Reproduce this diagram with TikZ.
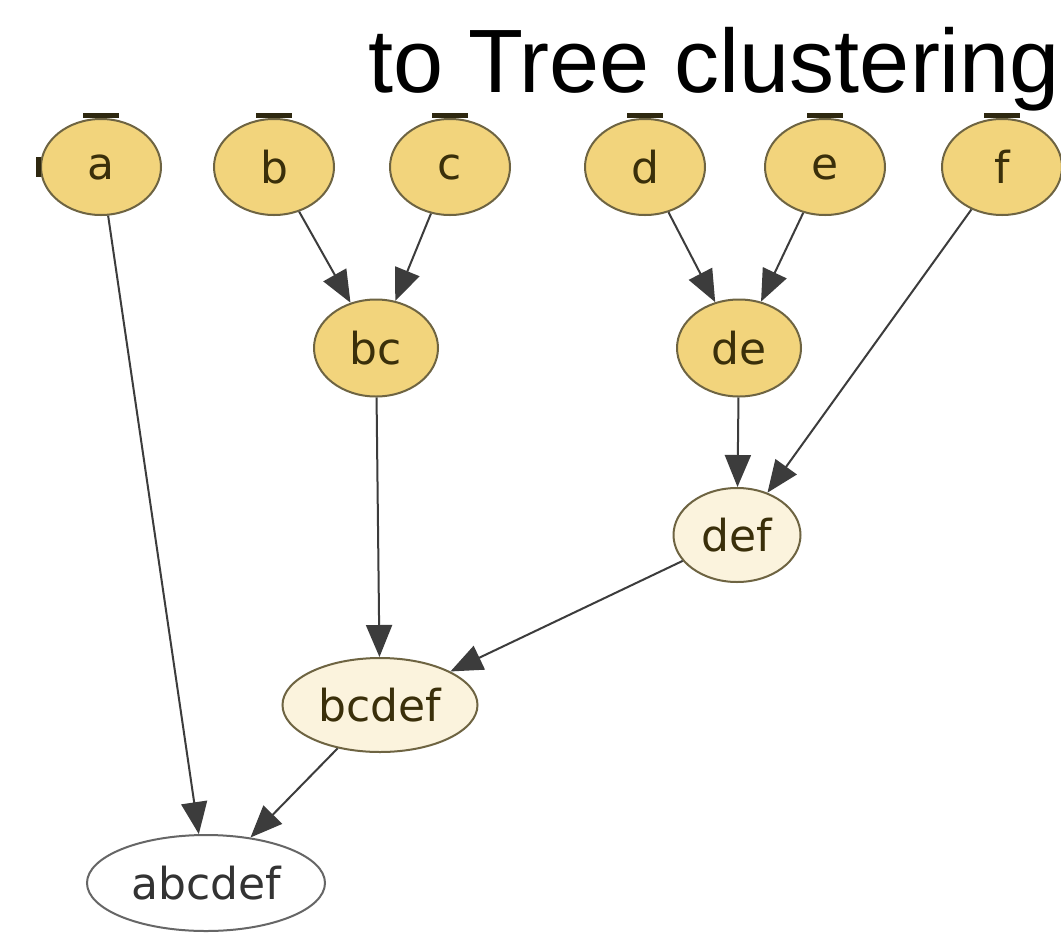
\documentclass[tikz,border=0pt]{standalone}
\usepackage{fontspec}
\usetikzlibrary{shapes.geometric,arrows.meta}
\newfontfamily\labfont{DejaVu Sans}
\newfontfamily\titlefont{Liberation Sans}
\definecolor{gold}{HTML}{F2D47C}
\definecolor{cream}{HTML}{FBF3DD}
\definecolor{rim}{HTML}{6E6442}
\definecolor{ink}{HTML}{3A2F0A}
\definecolor{edgec}{HTML}{3C3C3C}
\definecolor{nubc}{HTML}{2E2810}
\tikzset{
  cl/.style={ellipse, draw=rim, line width=2pt, inner sep=0pt, text=ink,
    font=\labfont\fontsize{44}{50}\selectfont},
  leaf/.style={cl, fill=gold, minimum width=120pt, minimum height=96pt},
  mid/.style={cl, fill=gold, minimum width=124pt, minimum height=97pt},
  merged/.style={cl, fill=cream, minimum height=94pt},
  rootn/.style={cl, fill=white, draw=black!60, text=black!80, minimum height=96pt},
  link/.style={draw=edgec, line width=2pt, -{Triangle[length=32pt,width=26pt]}},
  nub/.style={draw=nubc, line width=5pt}
}
\begin{document}
\begin{tikzpicture}[x=1pt,y=-1pt]
\useasboundingbox[fill=white] (0,0) rectangle (1061,935);
\node[anchor=base west, inner sep=0pt, font=\titlefont\fontsize{90}{100}\selectfont] (title) at (368,92) {to Tree clustering};
% leaves
\node[leaf] (a) at (101,167) {a};
\node[leaf] (b) at (274,167) {b};
\node[leaf] (c) at (450,167) {c};
\node[leaf] (d) at (645,167) {d};
\node[leaf] (e) at (825,167) {e};
\node[leaf] (f) at (1002,167) {f};
% intermediate
\node[mid] (bc) at (376,348) {bc};
\node[mid] (de) at (739,348) {de};
\node[merged, minimum width=127pt] (def) at (737,535) {def};
\node[merged, minimum width=195pt] (bcdef) at (380,705) {bcdef};
\node[rootn, minimum width=238pt] (abcdef) at (206,883) {abcdef};
% nubs
\foreach \n in {a,b,c,d,e,f}{
  \draw[nub] ([xshift=-18pt,yshift=3pt]\n.north) -- ([xshift=18pt,yshift=3pt]\n.north);
}
\draw[nub] ([xshift=-2pt,yshift=10pt]a.west) -- ([xshift=-2pt,yshift=-10pt]a.west);
% edges
\draw[link] (b) -- (bc);
\draw[link] (c) -- (bc);
\draw[link] (d) -- (de);
\draw[link] (e) -- (de);
\draw[link] (f) -- (def);
\draw[link] (de) -- (def);
\draw[link] (bc) -- (bcdef);
\draw[link] (def) -- (bcdef);
\draw[link] (a) -- (abcdef);
\draw[link] (bcdef) -- (abcdef);
\end{tikzpicture}
\end{document}
